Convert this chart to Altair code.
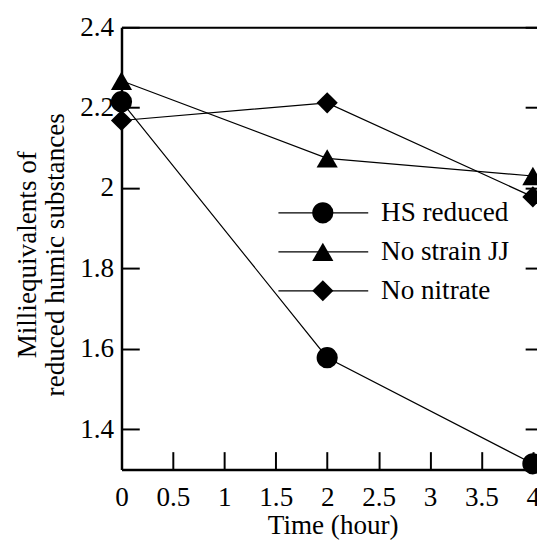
import altair as alt
import pandas as pd

series_names = ["HS reduced", "No strain JJ", "No nitrate"]
time_hours = [0, 2, 4]
hs_reduced = [2.215, 1.578, 1.314]
no_strain_jj = [2.267, 2.074, 2.030]
no_nitrate = [2.168, 2.212, 1.978]

x_ticks = [0, 0.5, 1, 1.5, 2, 2.5, 3, 3.5, 4]
y_ticks = [1.4, 1.6, 1.8, 2.0, 2.2, 2.4]

rows = []
for name, vals in zip(series_names, [hs_reduced, no_strain_jj, no_nitrate]):
    for t, v in zip(time_hours, vals):
        rows.append({"series": name, "time": t, "value": v})
df = pd.DataFrame(rows)
legend_df = pd.DataFrame({"series": series_names})

FONT = "Liberation Serif"
FS = 27.5
xs = alt.Scale(domain=[0, 4.04], nice=False, zero=False)
ys = alt.Scale(domain=[1.3, 2.4], nice=False, zero=False)
shape_scale = alt.Scale(domain=series_names, range=["circle", "triangle-up", "diamond"])

# Layer 1: lines with labels and inward ticks (bottom / left)
lines = alt.Chart(df).mark_line(color="black", strokeWidth=1.2).encode(
    x=alt.X("time:Q", scale=xs, axis=alt.Axis(
        orient="bottom", values=x_ticks, format=".1~f", offset=-18, tickSize=18,
        tickWidth=2, tickColor="black", domain=False, grid=False,
        labelFont=FONT, labelFontSize=FS, labelColor="black", labelPadding=15,
        labelFlush=False, labelOverlap=False,
        title="Time (hour)", titleFont=FONT, titleFontSize=FS, titleFontWeight="normal",
        titleColor="black", titleX=214, titleY=75, titleBaseline="middle", titleAlign="center")),
    y=alt.Y("value:Q", scale=ys, axis=alt.Axis(
        orient="left", values=y_ticks, format=".1~f", offset=-18, tickSize=18,
        tickWidth=2, tickColor="black", domain=False, grid=False,
        labelFont=FONT, labelFontSize=FS, labelColor="black", labelPadding=8,
        labelFlush=False, labelOverlap=False,
        title=["Milliequivalents of", "reduced humic substances"], titleFont=FONT,
        titleFontSize=FS, titleFontWeight="normal", titleColor="black",
        titleLineHeight=28, titleX=-113, titleY=230, titleAngle=270,
        titleBaseline="middle", titleAlign="center")),
    detail="series:N",
)

# Layer 2: markers, top border and right inward ticks
points = alt.Chart(df).mark_point(filled=True, color="black", opacity=1, size=460).encode(
    x=alt.X("time:Q", scale=xs, axis=alt.Axis(
        orient="top", values=x_ticks, ticks=False, labels=False, domain=True,
        domainColor="black", domainWidth=2, grid=False, title=None)),
    y=alt.Y("value:Q", scale=ys, axis=alt.Axis(
        orient="right", values=y_ticks, offset=-12, tickSize=12, tickWidth=2,
        tickColor="black", labels=False, domain=False, grid=False, title=None)),
    shape=alt.Shape("series:N", scale=shape_scale, legend=None),
)

# Layer 3: bottom and left axis lines
frame = alt.Chart(df).mark_point(opacity=0).encode(
    x=alt.X("time:Q", scale=xs, axis=alt.Axis(
        orient="bottom", ticks=False, labels=False, domain=True, domainColor="black",
        domainWidth=2.5, grid=False, title=None)),
    y=alt.Y("value:Q", scale=ys, axis=alt.Axis(
        orient="left", ticks=False, labels=False, domain=True, domainColor="black",
        domainWidth=2.5, grid=False, title=None)),
)

# Layer 4: in-plot legend
leg_y = alt.Y("series:N", sort=series_names,
              scale=alt.Scale(type="point", domain=series_names, range=[188, 267], padding=0),
              axis=None)
leg_line = alt.Chart(legend_df).mark_rule(color="black", strokeWidth=1.2).encode(
    x=alt.value(159), x2=alt.value(250), y=leg_y)
leg_pts = alt.Chart(legend_df).mark_point(filled=True, color="black", opacity=1, size=460).encode(
    x=alt.value(204), y=leg_y,
    shape=alt.Shape("series:N", scale=shape_scale, legend=None))
leg_txt = alt.Chart(legend_df).mark_text(
    font=FONT, fontSize=FS, color="black", align="left", baseline="middle").encode(
    x=alt.value(263), y=leg_y, text="series:N")

chart = alt.layer(lines, points, frame, leg_line, leg_pts, leg_txt).resolve_scale(
    x="independent", y="independent"
).resolve_axis(
    x="independent", y="independent"
).properties(
    width=421, height=448,
    autosize=alt.AutoSizeParams(type="none"),
    padding={"left": 115, "top": 16, "right": 0, "bottom": 70},
).configure_view(stroke=None).configure(background="white")

chart.save("out.html", embed_options={"renderer": "svg", "actions": False})
